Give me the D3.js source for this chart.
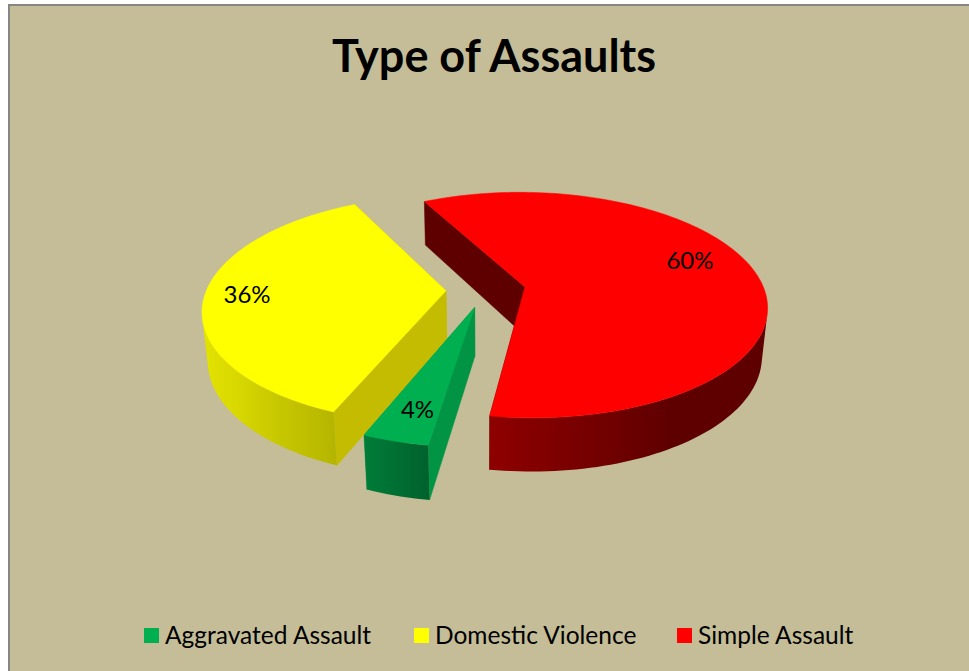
<!DOCTYPE html>
<html>
<head>
<meta charset="utf-8">
<title>Type of Assaults</title>
<script src="https://d3js.org/d3.v7.min.js"></script>
<style>
    html, body { margin: 0; padding: 0; background: #fff; overflow: hidden; }
    text { font-family: Lato, "Open Sans", sans-serif; fill: #000; }
</style>
</head>
<body>
<div id="chart-area"></div>
<script>
// data
var categories = ["Aggravated Assault", "Domestic Violence", "Simple Assault"];
var shares = [3.7, 36.3, 60];    // labels show these rounded
var chartTitle = "Type of Assaults";

// styles, same order as categories
var topColours = ["#00B050", "#FFFF00", "#FF0000"];
var wallColours = ["#009444", "#C4BC00", "#5F0000"];
var labelNudge = [-0.85, 0.2, -9.2];      // degrees off the slice bisector
var labelRadius = [0.79, 0.825, 0.765];
var explode = [0.16, 0.163, 0.17];
var legendX = [144, 414, 677];

var width = 969, height = 671;

// the pie lies on a tilted plane, seen in perspective
var firstSliceAngle = 188.7;
var centerX = 485, centerY = 290;
var radius = 239.4, squash = 110.8;
var perspective = 0.161;
var depth = 49, depthScale = 0.02;

var toRad = Math.PI / 180;

// outer wall brightness by angle (degrees clockwise from the top)
var wallLight = d3.scaleLinear()
    .domain([150, 189, 203, 230, 270])
    .range([0.37, 0.56, 0.72, 0.85, 0.93])
    .clamp(true);

var svg = d3.select("#chart-area").append("svg")
    .attr("width", width)
    .attr("height", height)
    .style("display", "block");

var defs = svg.append("defs");

svg.append("rect")
    .attr("x", 9)
    .attr("y", 5)
    .attr("width", width + 20)
    .attr("height", height + 20)
    .attr("fill", "#C4BD97")
    .attr("stroke", "#868686")
    .attr("stroke-width", 2);

svg.append("text")
    .attr("x", 494)
    .attr("y", 72)
    .attr("text-anchor", "middle")
    .attr("font-size", 45)
    .attr("font-weight", 700)
    .text(chartTitle);

var pie = d3.pie()
    .sort(null)
    .startAngle(firstSliceAngle * toRad)
    .endAngle((firstSliceAngle + 360) * toRad);

var slices = pie(shares);

var line = d3.line();

function polygon(points) {
    return line(points) + "Z";
}

// slice-local polar position -> plane position
function planePoint(d, angle, r) {
    var mid = (d.startAngle + d.endAngle) / 2;
    var e = explode[d.index];
    return {
        x: e * Math.sin(mid) + r * Math.sin(angle),
        y: -e * Math.cos(mid) - r * Math.cos(angle)
    };
}

function project(p, lower) {
    var s = 1 / (1 - perspective * p.y + (lower ? depthScale : 0));
    return [
        centerX + radius * p.x * s,
        centerY + (squash * p.y + (lower ? depth : 0)) * s
    ];
}

function shade(colour, angle) {
    var c = d3.rgb(colour), f = wallLight(angle);
    return d3.rgb(c.r * f, c.g * f, c.b * f).formatHex();
}

var g = svg.append("g");

// back slice first so the nearer ones paint over it
[2, 1, 0].forEach(function(i) {
    var d = slices[i];
    var group = g.append("g");
    var apex = planePoint(d, 0, 0);
    var a = planePoint(d, d.startAngle, 1);
    var b = planePoint(d, d.endAngle, 1);

    // radial walls, the ones facing away go first
    var walls = [
        [apex, a],
        [b, apex]
    ].map(function(edge) {
        return [
            project(edge[0]), project(edge[1]),
            project(edge[1], true), project(edge[0], true)
        ];
    });
    walls.sort(function(p, q) { return d3.polygonArea(p) - d3.polygonArea(q); });

    group.selectAll(".wall")
        .data(walls)
        .enter().append("path")
        .attr("class", "wall")
        .attr("d", polygon)
        .attr("fill", wallColours[i])
        .attr("stroke", wallColours[i])
        .attr("stroke-width", 0.5);

    // outer wall: keep the part facing the viewer, shade it with a gradient along x
    var step = 1.5 * toRad;
    var stops = d3.range(d.startAngle, d.endAngle, step).concat([d.endAngle]);
    var visible = d3.pairs(stops).filter(function(pair) {
        var p0 = planePoint(d, pair[0], 1), p1 = planePoint(d, pair[1], 1);
        return d3.polygonArea([project(p0), project(p1), project(p1, true), project(p0, true)]) > 0;
    });
    var arcAngles = visible.map(function(pair) { return pair[0]; })
        .concat([visible[visible.length - 1][1]]);
    var upper = arcAngles.map(function(t) { return project(planePoint(d, t, 1)); });
    var lower = arcAngles.map(function(t) { return project(planePoint(d, t, 1), true); });

    var xRange = d3.extent(upper.concat(lower), function(p) { return p[0]; });
    var offset = d3.scaleLinear().domain(xRange).range([0, 1]);
    var gradient = defs.append("linearGradient")
        .attr("id", "wall-" + i)
        .attr("gradientUnits", "userSpaceOnUse")
        .attr("x1", xRange[0])
        .attr("x2", xRange[1])
        .attr("y1", 0)
        .attr("y2", 0);
    var gradientStops = arcAngles.map(function(t, j) {
        return { offset: offset(upper[j][0]), colour: shade(topColours[i], (t / toRad) % 360) };
    }).sort(function(p, q) { return p.offset - q.offset; });
    gradient.selectAll("stop")
        .data(gradientStops)
        .enter().append("stop")
        .attr("offset", function(s) { return s.offset; })
        .attr("stop-color", function(s) { return s.colour; });

    group.append("path")
        .attr("d", polygon(upper.concat(lower.slice().reverse())))
        .attr("fill", "url(#wall-" + i + ")");

    // top face
    var outline = [project(apex)].concat(stops.map(function(t) {
        return project(planePoint(d, t, 1));
    }));
    group.append("path")
        .attr("d", polygon(outline))
        .attr("fill", topColours[i])
        .attr("stroke", topColours[i])
        .attr("stroke-width", 0.5);
});

// data labels
function labelPos(d, i) {
    var mid = (d.startAngle + d.endAngle) / 2 + labelNudge[i] * toRad;
    return project(planePoint(d, mid, labelRadius[i]));
}

svg.selectAll(".label")
    .data(slices)
    .enter().append("text")
    .attr("class", "label")
    .attr("text-anchor", "middle")
    .attr("font-size", 24)
    .attr("x", function(d, i) { return labelPos(d, i)[0]; })
    .attr("y", function(d, i) { return labelPos(d, i)[1] + 8; })
    .text(function(d) { return Math.round(d.data) + "%"; });

// legend
var legend = svg.selectAll(".legend")
    .data(categories)
    .enter().append("g")
    .attr("class", "legend")
    .attr("transform", function(d, i) { return "translate(" + legendX[i] + " 628)"; });

legend.append("rect")
    .attr("width", 15)
    .attr("height", 15)
    .attr("fill", function(d, i) { return topColours[i]; });

legend.append("text")
    .attr("x", 21)
    .attr("y", 16)
    .attr("font-size", 24.5)
    .text(function(d) { return d; });
</script>
</body>
</html>
